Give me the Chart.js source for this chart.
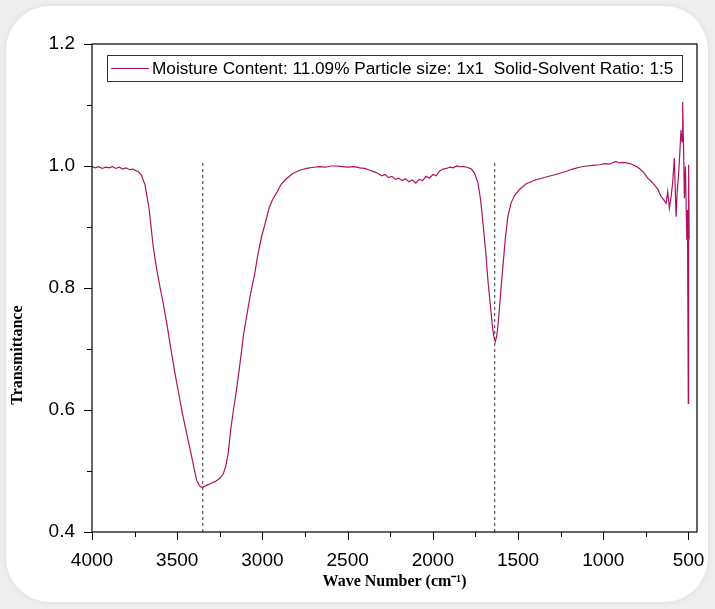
<!DOCTYPE html>
<html>
<head>
<meta charset="utf-8">
<script src="https://cdn.jsdelivr.net/npm/chart.js@4.4.1/dist/chart.umd.min.js"></script>
<style>
  html, body { margin: 0; padding: 0; background: #eeeeee; }
  #card { position: absolute; left: 6px; top: 6px; width: 702px; height: 596px;
          background: #fff; border-radius: 44px; box-shadow: 0 0 6px rgba(0,0,0,0.08); }
  #wrap { position: absolute; left: 0; top: 0; width: 715px; height: 609px; }
</style>
</head>
<body>
<div id="card"></div>
<div id="wrap"><canvas id="ftir"></canvas></div>
<script>
// FTIR spectrum (wave number, transmittance)
const waveNumbers = [
  4000, 3980, 3960, 3940, 3920, 3900, 3880, 3860, 3840, 3820, 3800, 3780, 3760, 3740, 3729, 3710,
  3689, 3665, 3641, 3620, 3600, 3582, 3560, 3540, 3513, 3490, 3470, 3445, 3420, 3400, 3386, 3370,
  3355, 3347, 3330, 3300, 3275, 3250, 3230, 3215, 3201, 3185, 3170, 3152, 3130, 3110, 3093, 3070,
  3045, 3025, 3005, 2980, 2960, 2940, 2917, 2890, 2860, 2820, 2780, 2740, 2700, 2664, 2630, 2600,
  2566, 2530, 2500, 2460, 2429, 2400, 2370, 2340, 2324, 2300, 2280, 2260, 2240, 2220, 2200, 2180,
  2160, 2140, 2120, 2100, 2080, 2060, 2040, 2020, 2000, 1980, 1960, 1940, 1920, 1900, 1880, 1860,
  1843, 1820, 1800, 1774, 1755, 1735, 1720, 1706, 1690, 1677, 1662, 1648, 1640, 1634, 1626, 1618,
  1604, 1589, 1575, 1560, 1540, 1520, 1490, 1452, 1400, 1335, 1280, 1220, 1180, 1140, 1100, 1060,
  1022, 990, 960, 940, 925, 905, 885, 866, 845, 827, 805, 788, 765, 739, 720, 700,
  680, 661, 646, 631, 622, 612, 602, 593, 583, 573, 566, 559, 553, 544, 538, 534,
  528, 524, 518, 510, 506, 501, 499, 496
];
const transmittance = [
  0.999, 0.997, 0.999, 0.996, 0.998, 0.997, 0.999, 0.996, 0.998, 0.995, 0.997, 0.994, 0.995, 0.992, 0.991, 0.985,
  0.969, 0.930, 0.868, 0.830, 0.800, 0.775, 0.740, 0.705, 0.660, 0.625, 0.595, 0.562, 0.530, 0.503, 0.485, 0.476,
  0.473, 0.474, 0.476, 0.480, 0.483, 0.488, 0.495, 0.508, 0.529, 0.570, 0.600, 0.633, 0.680, 0.725, 0.753, 0.790,
  0.824, 0.857, 0.884, 0.910, 0.932, 0.945, 0.956, 0.970, 0.979, 0.988, 0.993, 0.996, 0.998, 0.999, 0.998, 1.000,
  1.000, 0.999, 0.998, 0.999, 0.997, 0.996, 0.993, 0.990, 0.988, 0.984, 0.986, 0.981, 0.983, 0.978, 0.980, 0.976,
  0.979, 0.974, 0.977, 0.972, 0.978, 0.976, 0.983, 0.980, 0.986, 0.984, 0.992, 0.995, 0.996, 0.998, 0.997, 1.000,
  0.999, 0.999, 0.998, 0.995, 0.988, 0.972, 0.945, 0.907, 0.860, 0.813, 0.770, 0.731, 0.718, 0.712, 0.720, 0.737,
  0.785, 0.835, 0.880, 0.917, 0.940, 0.952, 0.962, 0.971, 0.977, 0.982, 0.986, 0.991, 0.995, 0.998, 1.000, 1.001,
  1.002, 1.004, 1.003, 1.006, 1.007, 1.005, 1.006, 1.005, 1.004, 1.002, 0.999, 0.996, 0.990, 0.980, 0.975, 0.969,
  0.962, 0.950, 0.945, 0.939, 0.958, 0.931, 0.950, 0.972, 1.013, 0.917, 0.960, 0.982, 1.010, 1.059, 1.040, 1.105,
  1.015, 0.947, 0.999, 0.879, 0.928, 0.611, 1.002, 0.880
];
const peakMarkers = [3350, 1637];   // dashed guide lines
const markerTop = 1.01;

const xMajorTicks = [4000, 3500, 3000, 2500, 2000, 1500, 1000, 500];
const xMinorTicks = [3750, 3250, 2750, 2250, 1750, 1250, 750];
const yMajorTicks = [0.4, 0.6, 0.8, 1.0, 1.2];
const yMinorTicks = [0.5, 0.7, 0.9, 1.1];

const legendText = 'Moisture Content: 11.09% Particle size: 1x1  Solid-Solvent Ratio: 1:5';
const yTitle = 'Transmittance';
const lineColor = '#ad1260';

const spectrum = waveNumbers.map((w, i) => ({ x: w, y: transmittance[i] }));

const datasets = [{
  label: legendText,
  data: spectrum,
  borderColor: lineColor,
  borderWidth: 1.2,
  pointRadius: 0,
  tension: 0
}];
peakMarkers.forEach((p) => {
  datasets.push({
    label: 'marker',
    data: [{ x: p, y: 0.4 }, { x: p, y: markerTop }],
    borderColor: '#333',
    borderWidth: 1,
    borderDash: [3, 3],
    pointRadius: 0
  });
});

// frame, minor/major ticks, y title and the boxed legend inside the plot
const framePlugin = {
  id: 'frame',
  afterDraw(chart) {
    const { ctx, chartArea: a, scales } = chart;
    ctx.save();
    ctx.strokeStyle = '#000';
    ctx.lineWidth = 1.2;
    ctx.strokeRect(a.left, a.top, a.right - a.left, a.bottom - a.top);
    ctx.lineWidth = 1;
    ctx.beginPath();
    xMajorTicks.forEach((v) => {
      const x = Math.round(scales.x.getPixelForValue(v)) + 0.5;
      ctx.moveTo(x, a.bottom); ctx.lineTo(x, a.bottom + 8);
    });
    xMinorTicks.forEach((v) => {
      const x = Math.round(scales.x.getPixelForValue(v)) + 0.5;
      ctx.moveTo(x, a.bottom); ctx.lineTo(x, a.bottom + 5);
    });
    yMajorTicks.forEach((v) => {
      const y = Math.round(scales.y.getPixelForValue(v)) + 0.5;
      ctx.moveTo(a.left, y); ctx.lineTo(a.left - 8, y);
    });
    yMinorTicks.forEach((v) => {
      const y = Math.round(scales.y.getPixelForValue(v)) + 0.5;
      ctx.moveTo(a.left, y); ctx.lineTo(a.left - 5, y);
    });
    ctx.stroke();

    // y axis title, sits a bit below the middle of the axis as in the source
    ctx.save();
    ctx.translate(18, scales.y.getPixelForValue(0.69));
    ctx.rotate(-Math.PI / 2);
    ctx.fillStyle = '#000';
    ctx.font = 'bold 16px "Liberation Serif", "Times New Roman", serif';
    ctx.textAlign = 'center';
    ctx.textBaseline = 'middle';
    ctx.fillText(yTitle, 0, 0);
    ctx.restore();

    // legend box
    const bx = a.left + 15, by = a.top + 11, bw = a.right - a.left - 30, bh = 26;
    ctx.strokeStyle = '#333';
    ctx.strokeRect(bx + 0.5, by + 0.5, bw, bh);
    ctx.strokeStyle = lineColor;
    ctx.lineWidth = 1.2;
    ctx.beginPath();
    ctx.moveTo(bx + 4, by + bh / 2 + 0.5);
    ctx.lineTo(bx + 42, by + bh / 2 + 0.5);
    ctx.stroke();
    ctx.fillStyle = '#000';
    ctx.font = '17.2px "Liberation Sans", Arial, sans-serif';
    ctx.textBaseline = 'middle';
    ctx.fillText(legendText, bx + 45, by + bh / 2 + 1);
    ctx.restore();
  }
};

new Chart(document.getElementById('ftir'), {
  type: 'line',
  data: { datasets },
  options: {
    responsive: true,
    maintainAspectRatio: false,
    animation: false,
    layout: { padding: { top: 44, right: 18, left: 0, bottom: 14 } },
    plugins: {
      legend: { display: false },
      tooltip: { enabled: false }
    },
    scales: {
      x: {
        type: 'linear',
        reverse: true,
        min: 450,
        max: 4000,
        grid: { display: false },
        border: { display: false },
        afterBuildTicks: (s) => { s.ticks = xMajorTicks.map((v) => ({ value: v })); },
        afterFit: (s) => { s.height = 63; },
        ticks: {
          padding: 9,
          maxRotation: 0,
          color: '#000',
          callback: (v) => String(v),
          font: { family: '"Liberation Sans", Arial, sans-serif', size: 19 }
        },
        title: {
          display: true,
          text: 'Wave Number (cm⁻¹)',
          color: '#000',
          font: { family: '"Liberation Serif", "Times New Roman", serif', size: 16, weight: 'bold' }
        }
      },
      y: {
        min: 0.4,
        max: 1.2,
        grid: { display: false },
        border: { display: false },
        afterBuildTicks: (s) => { s.ticks = yMajorTicks.map((v) => ({ value: v })); },
        afterFit: (s) => { s.width = 92; },
        ticks: {
          padding: 9,
          color: '#000',
          callback: (v) => Number(v).toFixed(1),
          font: { family: '"Liberation Sans", Arial, sans-serif', size: 19 }
        }
      }
    }
  },
  plugins: [framePlugin]
});
</script>
</body>
</html>
